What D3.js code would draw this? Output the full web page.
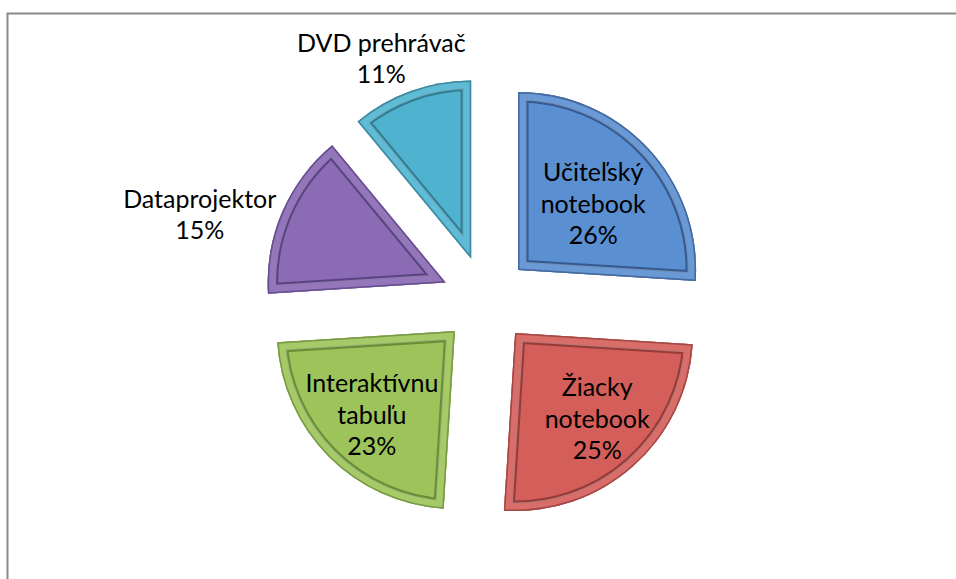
<!DOCTYPE html>
<html>
<head>
<meta charset="utf-8">
<script src="https://cdn.jsdelivr.net/npm/d3@7"></script>
<style>
  html, body { margin: 0; padding: 0; background: #fff; }
  svg text { font-family: Lato, "Open Sans", sans-serif; fill: #000; }
</style>
</head>
<body>
<div id="chart"></div>
<script>
// data
const names = ["Učiteľský\nnotebook", "Žiacky\nnotebook", "Interaktívnu\ntabuľu", "Dataprojektor", "DVD prehrávač"];
const values = [26, 25, 23, 15, 11];
const fills = ["#5a8fd1", "#d35e5a", "#9cc45b", "#8a6bb4", "#4fb3d0"];
const rims = ["#6a9ad6", "#d96d69", "#a6ca68", "#9476bb", "#5fbbd6"];
const darks = ["#1d3766", "#6e2422", "#496a1f", "#3b2764", "#1d5a6c"];

// label placement (relative to each slice's corner), layout only
const labelRadius = [100, 119, 118, 255, 219];
const labelAngle = [48.7, 136.4, 224.7, 285.4, 335.8];

const width = 956, height = 579;
const cx = 486, cy = 300, r = 178, explode = 44;
const fontSize = 25, lineH = 31.5;

const svg = d3.select('#chart').append('svg')
  .attr('width', width)
  .attr('height', height);

// chart frame, runs off right and bottom
svg.append('rect')
  .attr('x', 7.5).attr('y', 13.5)
  .attr('width', width + 20).attr('height', height + 20)
  .attr('fill', 'none')
  .attr('stroke', '#8a8a8a')
  .attr('stroke-width', 2);

const pie = d3.pie().sort(null).value(d => d);
const arc = d3.arc().innerRadius(0).outerRadius(r);
const arcs = pie(values);

const defs = svg.append('defs');
const g = svg.append('g').attr('transform', 'translate(' + cx + ',' + cy + ')');

arcs.forEach((d, i) => {
  const mid = (d.startAngle + d.endAngle) / 2;
  const ox = Math.sin(mid) * explode, oy = -Math.cos(mid) * explode;
  const slice = g.append('g').attr('transform', 'translate(' + ox + ',' + oy + ')');
  const p = arc(d);

  defs.append('clipPath').attr('id', 'clip' + i)
    .append('path').attr('d', p).attr('transform', 'translate(' + (cx + ox) + ',' + (cy + oy) + ')');

  slice.append('path').attr('d', p).attr('fill', fills[i]);

  // bevel rings, clipped to the slice
  const bev = svg.append('g').attr('clip-path', 'url(#clip' + i + ')')
    .append('g').attr('transform', 'translate(' + (cx + ox) + ',' + (cy + oy) + ')');
  bev.append('path').attr('d', p).attr('fill', 'none')
    .attr('stroke', darks[i]).attr('stroke-width', 21).attr('stroke-linejoin', 'miter').attr('opacity', 0.6);
  bev.append('path').attr('d', p).attr('fill', 'none')
    .attr('stroke', '#ffffff').attr('stroke-width', 17).attr('stroke-linejoin', 'miter').attr('opacity', 0.3);
  bev.append('path').attr('d', p).attr('fill', 'none')
    .attr('stroke', rims[i]).attr('stroke-width', 15).attr('stroke-linejoin', 'miter');
  bev.append('path').attr('d', p).attr('fill', 'none')
    .attr('stroke', darks[i]).attr('stroke-width', 3).attr('opacity', 0.5);

  // label
  const a = labelAngle[i] * Math.PI / 180;
  const lx = cx + ox + Math.sin(a) * labelRadius[i];
  const ly = cy + oy - Math.cos(a) * labelRadius[i];
  const lines = names[i].split('\n').concat([values[i] + '%']);
  const t = svg.append('text')
    .attr('text-anchor', 'middle')
    .attr('font-size', fontSize);
  lines.forEach((s, k) => {
    t.append('tspan')
      .attr('x', lx)
      .attr('y', ly - (lines.length - 1) / 2 * lineH + k * lineH + fontSize * 0.35)
      .text(s);
  });
});
</script>
</body>
</html>
